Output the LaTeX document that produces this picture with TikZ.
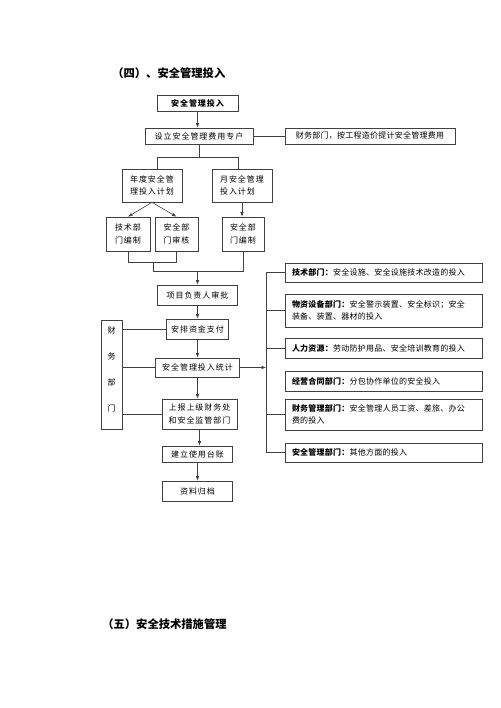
\documentclass[tikz,border=0pt]{standalone}
\usepackage{fontspec}
\setmainfont{Noto Sans CJK SC}
\newfontfamily\boxfont[LetterSpace=12]{Noto Sans CJK SC}
\newfontfamily\listfont[LetterSpace=3]{Noto Sans CJK SC}
\usetikzlibrary{arrows.meta}

\begin{document}
\begin{tikzpicture}[x=1pt,y=-1pt,>={Latex[length=4.5pt,width=3.5pt]},
  every node/.style={inner sep=0pt},
  blk/.style={draw=black!75,line width=0.6pt,align=left,
    font=\boxfont\fontsize{8}{12.5}\selectfont},
  item/.style={blk,font=\listfont\fontsize{8}{12}\selectfont,
    text width=183pt,inner xsep=7pt,minimum width=197pt},
  head/.style={anchor=west,font=\bfseries\fontsize{11.3}{13}\selectfont}]
\useasboundingbox (0,0) rectangle (500,708);
\tikzstyle{every path}+=[draw=black!75,line width=0.6pt]
% titles
\node[head] (t4) at (112,73) {（四）、安全管理投入};
\node[head] (t5) at (102,624) {（五）安全技术措施管理};
% left column
\node[blk,font=\boxfont\bfseries\fontsize{8}{12}\selectfont,minimum width=81pt,minimum height=16pt] (invest) at (197.5,103) {安全管理投入};
\node[blk,minimum width=108pt,minimum height=16pt] (account) at (199,136) {设立安全管理费用专户};
\node[blk,font=\listfont\fontsize{8}{12}\selectfont,minimum width=170pt,minimum height=16pt] (fund) at (370,136) {财务部门，按工程造价提计安全管理费用};
\node[blk,minimum width=60pt,minimum height=33pt] (annual) at (152,185.5) {年度安全管\\理投入计划};
\node[blk,minimum width=60pt,minimum height=33pt] (monthly) at (242,185.5) {月安全管理\\投入计划};
\node[blk,minimum width=44pt,minimum height=34pt] (techA) at (128,234) {技术部\\门编制};
\node[blk,minimum width=43pt,minimum height=34pt] (safeA) at (176.5,234) {安全部\\门审核};
\node[blk,minimum width=42pt,minimum height=34pt] (safeB) at (243,234) {安全部\\门编制};
\node[blk,minimum width=80pt,minimum height=20pt] (approve) at (197.5,295) {项目负责人审批};
\node[blk,minimum width=62pt,minimum height=20pt] (pay) at (197.5,329) {安排资金支付};
\node[blk,minimum width=84pt,minimum height=19pt] (stat) at (197.5,367.5) {安全管理投入统计};
\node[blk,minimum width=75pt,minimum height=30pt] (report) at (199.5,414) {上报上级财务处\\和安全监管部门};
\node[blk,minimum width=70pt,minimum height=16pt] (ledger) at (197.5,454) {建立使用台账};
\node[blk,minimum width=70pt,minimum height=20pt] (archive) at (197.5,491) {资料归档};
\node[blk,align=center,font=\boxfont\fontsize{8}{26}\selectfont,minimum width=21pt,minimum height=109pt] (cw) at (111.5,374.5) {财\\务\\部\\门\\[-16pt]\mbox{}};
% right column
\node[item,minimum height=19pt] (r1) at (383.5,272.5) {\textbf{技术部门：}安全设施、安全设施技术改造的投入};
\node[item,minimum height=33pt] (r2) at (383.5,310.5) {\textbf{物资设备部门：}安全警示装置、安全标识；安全\\装备、装置、器材的投入};
\node[item,minimum height=20pt] (r3) at (383.5,348) {\textbf{人力资源：}劳动防护用品、安全培训教育的投入};
\node[item,minimum height=20pt] (r4) at (383.5,381) {\textbf{经营合同部门：}分包协作单位的安全投入};
\node[item,minimum height=31pt] (r5) at (383.5,414.5) {\textbf{财务管理部门：}安全管理人员工资、差旅、办公\\费的投入};
\node[item,minimum height=19pt] (r6) at (383.5,452.5) {\textbf{安全管理部门：}其他方面的投入};
% connectors
\coordinate (j1) at (157,157);
\coordinate (j2) at (238,157);
\coordinate (k1) at (153,262);
\coordinate (k2) at (153,271);
\coordinate (bus) at (266,0);
\draw[->] (invest.south) -- (invest.south |- account.north);
\draw (account.east) -- (fund.west);
\draw (account.south) -- (account.south |- j1);
\draw (j1 |- annual.north) -- (j1) -- (j2) -- (j2 |- monthly.north);
\draw[->] (annual.south) -- (techA.north);
\draw[->] (annual.south) -- (safeA.north);
\draw[->] (monthly.south) -- (monthly.south |- safeB.north);
\draw (techA.south) -- (techA.south |- k1) -- (safeA.south |- k1) -- (safeA.south);
\draw (k1) -- (k2) -- (safeB.south |- k2) -- (safeB.south);
\draw[->] (approve.north |- k2) -- (approve.north);
\foreach \a/\b in {approve/pay,pay/stat,stat/report,report/ledger,ledger/archive}
  \draw[->] (\a.south) -- (\a.south |- \b.north);
\foreach \n in {pay,stat,report}
  \draw (\n.west) -- (\n.west -| cw.east);
\draw[->] (stat.east) -- (stat.east -| bus);
\draw (r1.west) -- (r1.west -| bus) -- (r6.west -| bus) -- (r6.west);
\foreach \n in {r2,r3,r5}
  \draw (\n.west) -- (\n.west -| bus);
\end{tikzpicture}
\end{document}
